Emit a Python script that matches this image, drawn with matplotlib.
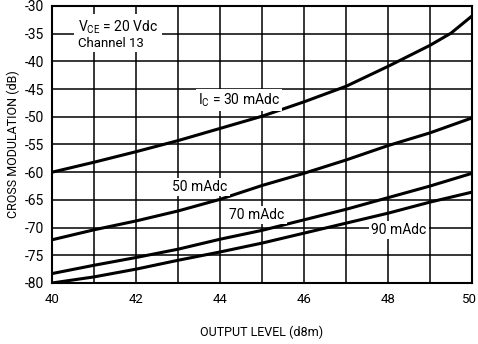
import matplotlib
matplotlib.use("Agg")
import matplotlib.pyplot as plt
from matplotlib.transforms import ScaledTranslation

plt.rcParams['font.family'] = ['Roboto', 'DejaVu Sans']

output_level = [40, 41, 42, 43, 44, 45, 46, 47, 48, 49, 50]
output_level_30 = [40, 41, 42, 43, 44, 45, 46, 47, 48, 49, 49.5, 50]
ic_30 = [-60.0, -58.2, -56.3, -54.3, -52.1, -49.9, -47.3, -44.5, -40.9, -37.1, -34.9, -31.8]
ic_50 = [-72.2, -70.4, -68.8, -67.0, -64.9, -62.4, -60.2, -57.8, -55.2, -52.9, -50.2]
ic_70 = [-78.3, -76.8, -75.4, -73.9, -72.1, -70.5, -68.6, -66.7, -64.6, -62.5, -60.2]
ic_90 = [-80.0, -78.9, -77.5, -75.9, -74.4, -72.8, -71.0, -69.2, -67.4, -65.4, -63.6]

x_ticks = [40, 42, 44, 46, 48, 50]
y_ticks = [-30, -35, -40, -45, -50, -55, -60, -65, -70, -75, -80]

fig = plt.figure(figsize=(4.78, 3.44), dpi=100)
ax = fig.add_axes([52/478, 1-283/344, 420/478, 277/344])

ax.set_xlim(40, 50)
ax.set_ylim(-80, -30)
for xv in range(40, 51):
    ax.axvline(xv, color='black', lw=1.1, zorder=1)
for yv in y_ticks:
    ax.axhline(yv, color='black', lw=1.1, zorder=1)

ax.plot(output_level_30, ic_30, color='black', lw=2.2, zorder=3)
for s in (ic_50, ic_70, ic_90):
    ax.plot(output_level, s, color='black', lw=2.2, zorder=3)

ax.set_xticks(x_ticks)
ax.set_yticks(y_ticks)
ax.tick_params(length=0, labelsize=10)
ax.tick_params(axis='x', labelsize=9.5, pad=7)
ax.tick_params(axis='y', pad=6)
ax.set_yticklabels([str(v) for v in y_ticks])
ax.set_xticklabels([str(v) for v in x_ticks])
last = ax.get_xticklabels()[-1]
last.set_transform(last.get_transform() + ScaledTranslation(-3/100, 0, fig.dpi_scale_trans))
for sp in ax.spines.values():
    sp.set_linewidth(1.5)

ax.set_ylabel('CROSS MODULATION (dB)', fontsize=9, labelpad=3)
ax.set_xlabel('OUTPUT LEVEL (d8m)', fontsize=9, labelpad=14)

box = dict(facecolor='white', edgecolor='none', pad=1.5)
ax.text(40.62, -33.8, r'V$_{\mathregular{CE}}$ = 20 Vdc', fontsize=10, ha='left', va='center', bbox=dict(facecolor='white', edgecolor='none', pad=3), zorder=4)
ax.text(40.62, -36.8, 'Channel 13', fontsize=9.5, ha='left', va='center', bbox=box, zorder=4)
ax.text(44.45, -47.0, r'I$_{\mathregular{C}}$ = 30 mAdc', fontsize=10, ha='center', va='center', bbox=box, zorder=4)
ax.text(43.52, -62.7, '50 mAdc', fontsize=10, ha='center', va='center', bbox=box, zorder=4)
ax.text(44.88, -67.7, '70 mAdc', fontsize=10, ha='center', va='center', bbox=box, zorder=4)
ax.text(48.26, -70.4, '90 mAdc', fontsize=10, ha='center', va='center', bbox=box, zorder=4)

fig.savefig('out.png', dpi=100)
